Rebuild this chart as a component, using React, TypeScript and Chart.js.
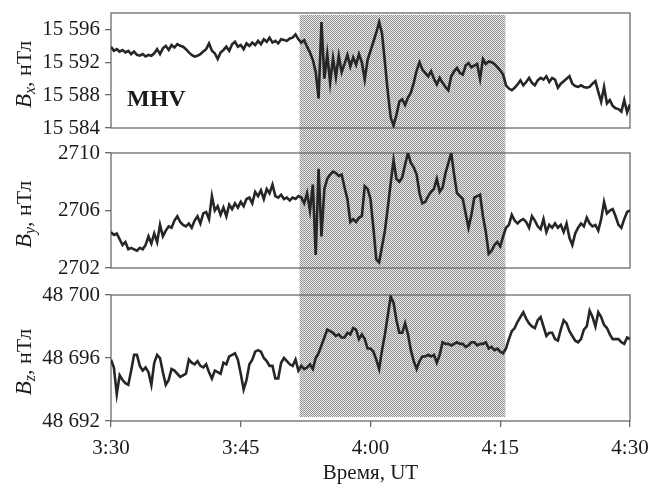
import React, { useEffect, useRef } from "react";
import { Chart, registerables } from "chart.js";

Chart.register(...registerables);

// ---- axis definitions (minutes after 3:30 UT) ----
const xTickMinutes = [0, 15, 30, 45, 60];
const xTickLabels = ["3:30", "3:45", "4:00", "4:15", "4:30"];
const shadedMinutes = [21.8, 45.6];

const bxRange = [15584, 15598];
const bxTicks = [15584, 15588, 15592, 15596];
const bxTickLabels = ["15 584", "15 588", "15 592", "15 596"];
const byRange = [2702, 2710];
const byTicks = [2702, 2706, 2710];
const byTickLabels = ["2702", "2706", "2710"];
const bzRange = [48692, 48700];
const bzTicks = [48692, 48696, 48700];
const bzTickLabels = ["48 692", "48 696", "48 700"];

const stationLabel = "MHV";
const xTitle = "Время, UT";
const unitLabel = ", нТл";

// ---- series: one sample every 20 s from 3:30 to 4:30 UT ----
const bxValues = [
  15593.9, 15593.4, 15593.6, 15593.3, 15593.5, 15593.2, 15593.4, 15593.0, 15593.3,
  15592.9, 15592.8, 15593.0, 15592.7, 15592.9, 15592.8, 15593.1, 15593.6, 15593.0,
  15593.7, 15594.0, 15593.5, 15594.1, 15593.8, 15594.2, 15594.0, 15593.9, 15593.6,
  15593.2, 15592.9, 15592.7, 15592.8, 15593.0, 15593.3, 15593.6, 15594.3, 15593.4,
  15593.1, 15592.4, 15593.2, 15593.5, 15593.9, 15593.4, 15594.2, 15594.5, 15593.9,
  15594.1, 15593.6, 15594.3, 15594.0, 15594.4, 15594.1, 15594.6, 15594.2, 15594.8,
  15594.5, 15595.0, 15594.4, 15594.6, 15594.3, 15594.8, 15594.7, 15594.6, 15594.9,
  15595.0, 15595.4, 15594.8, 15594.4, 15594.7, 15593.9, 15593.2, 15592.3, 15590.8,
  15587.6, 15596.9, 15590.0, 15593.0, 15589.5, 15592.5, 15590.2, 15592.8, 15590.8,
  15591.8, 15592.9, 15591.5, 15592.6, 15591.7, 15593.0, 15592.0, 15589.9, 15592.3,
  15593.4, 15594.5, 15595.6, 15596.9, 15595.5, 15592.0, 15588.4, 15585.3, 15584.3,
  15585.6, 15587.2, 15587.5, 15586.8, 15587.7, 15588.3, 15589.5, 15591.0, 15592.0,
  15591.1, 15590.7, 15590.3, 15590.9, 15590.0, 15589.3, 15590.1, 15589.5, 15589.0,
  15588.6, 15590.3, 15590.9, 15591.3, 15590.7, 15590.5, 15591.6, 15591.9, 15591.4,
  15591.6, 15591.8, 15590.0, 15592.4, 15591.8, 15592.1, 15592.0, 15591.8, 15591.4,
  15591.0, 15590.5, 15589.2, 15588.8, 15588.6, 15588.9, 15589.3, 15589.8, 15589.2,
  15589.6, 15590.1, 15589.5, 15589.2, 15589.8, 15590.1, 15589.9, 15590.3, 15589.6,
  15590.1, 15589.9, 15588.9, 15589.4, 15589.7, 15590.0, 15590.3, 15589.4, 15589.1,
  15589.0, 15589.2, 15589.0, 15588.9, 15589.0, 15589.4, 15589.7, 15588.4, 15587.2,
  15589.0, 15587.0, 15587.4, 15586.7, 15586.4, 15586.3, 15586.0, 15587.4, 15585.9,
  15586.9,
];

const byValues = [
  2704.5, 2704.3, 2704.4, 2704.0, 2703.6, 2703.8, 2703.3, 2703.4, 2703.3,
  2703.2, 2703.4, 2703.3, 2703.6, 2704.2, 2703.7, 2704.4, 2703.8, 2705.0,
  2704.2, 2704.6, 2704.9, 2704.8, 2705.3, 2705.6, 2705.2, 2705.0, 2704.9,
  2705.1, 2704.8, 2705.3, 2705.6, 2705.1, 2705.8, 2705.9, 2705.4, 2707.0,
  2706.0, 2706.3, 2705.7, 2706.2, 2705.6, 2706.4, 2706.1, 2706.5, 2706.2,
  2706.6, 2706.3, 2706.8, 2706.9, 2706.5, 2707.3, 2707.0, 2707.4, 2706.8,
  2707.5, 2707.2, 2707.8, 2707.0, 2706.9, 2707.1, 2706.8, 2706.9, 2706.7,
  2706.9, 2706.8, 2707.0, 2706.9, 2706.5, 2707.2, 2706.0, 2707.8, 2702.9,
  2708.9, 2704.2, 2707.5, 2708.2, 2708.5, 2708.7, 2708.6, 2708.4, 2708.5,
  2707.6, 2706.8, 2705.2, 2705.4, 2705.2, 2705.5, 2705.6, 2707.7, 2707.5,
  2706.8, 2704.8, 2702.6, 2702.4, 2703.5, 2704.6, 2706.2, 2707.9, 2709.5,
  2708.2, 2708.0, 2708.3, 2709.2, 2710.0, 2709.3, 2709.0, 2708.5, 2707.2,
  2706.5, 2706.6, 2707.0, 2707.3, 2707.5, 2708.2, 2707.3, 2707.6, 2708.6,
  2709.3, 2710.0, 2708.5, 2707.2, 2707.0, 2706.8, 2705.8, 2704.8, 2705.7,
  2706.9, 2707.0, 2707.1, 2705.6, 2704.5, 2703.0, 2703.2, 2703.6, 2703.8,
  2703.5, 2704.2, 2704.8, 2705.0, 2705.7, 2705.3, 2705.1, 2705.3, 2705.4,
  2705.2, 2704.8, 2705.6, 2705.3, 2704.9, 2704.7, 2705.4, 2704.5, 2705.0,
  2704.8, 2705.1, 2704.8, 2705.0, 2704.5, 2705.1, 2704.1, 2703.6, 2704.4,
  2704.8, 2705.1, 2704.9, 2705.5, 2705.1, 2704.9, 2705.0, 2704.6, 2705.4,
  2706.6, 2705.8, 2706.0, 2706.1, 2705.6, 2705.0, 2704.8, 2705.4, 2705.9,
  2706.0,
];

const bzValues = [
  48695.9, 48695.4, 48693.7, 48694.9, 48694.6, 48694.4, 48694.3, 48695.2, 48696.2,
  48696.2, 48695.5, 48695.2, 48695.4, 48695.1, 48694.3, 48695.7, 48696.2, 48696.0,
  48695.1, 48694.3, 48694.6, 48695.3, 48695.2, 48695.0, 48694.8, 48694.9, 48695.0,
  48695.9, 48695.7, 48695.6, 48695.8, 48695.5, 48695.4, 48695.6, 48695.1, 48694.7,
  48695.2, 48695.1, 48695.0, 48695.7, 48695.6, 48696.1, 48696.2, 48696.3, 48695.9,
  48695.0, 48694.0, 48694.6, 48695.6, 48695.9, 48696.4, 48696.5, 48696.4, 48696.0,
  48695.8, 48695.5, 48695.5, 48694.7, 48694.7, 48695.7, 48696.0, 48695.8, 48695.6,
  48695.5, 48695.9, 48695.2, 48695.5, 48695.3, 48695.4, 48695.6, 48695.3, 48696.0,
  48696.3, 48696.8, 48697.3, 48697.8, 48697.7, 48697.6, 48697.4, 48697.5, 48697.3,
  48697.3, 48697.6, 48697.5, 48697.9, 48697.8, 48697.2, 48697.5, 48697.2, 48696.6,
  48696.6, 48696.4, 48695.9, 48695.3, 48696.5, 48697.5, 48698.7, 48699.9, 48699.5,
  48698.4, 48697.6, 48697.6, 48698.2, 48697.5, 48696.5, 48695.8, 48695.3, 48695.8,
  48696.1, 48696.1, 48696.2, 48696.1, 48696.2, 48695.7, 48696.2, 48697.0, 48696.9,
  48696.9, 48696.8, 48696.9, 48697.0, 48696.9, 48696.9, 48696.7, 48696.8, 48697.0,
  48697.0, 48696.8, 48696.9, 48696.9, 48697.0, 48696.6, 48696.7, 48696.5, 48696.6,
  48696.4, 48696.3, 48696.6, 48697.2, 48697.7, 48697.9, 48698.3, 48698.6, 48698.9,
  48698.5, 48698.2, 48698.0, 48697.9, 48698.4, 48698.6, 48698.0, 48697.4, 48697.6,
  48697.6, 48697.2, 48697.1, 48697.8, 48698.4, 48698.2, 48697.7, 48697.4, 48697.1,
  48697.0, 48697.2, 48697.8, 48698.0, 48699.0, 48698.6, 48698.0, 48698.9, 48698.6,
  48698.1, 48697.9, 48697.5, 48697.2, 48697.2, 48697.2, 48697.0, 48696.9, 48697.3,
  48697.2,
];

const SERIF = "'Liberation Serif', 'Times New Roman', serif";
const INK = "#1a1a1a";
const FRAME = "#6a6a6a";
const LINE = "#262626";

const toPoints = (vals: number[]) => {
  const step = 60 / (vals.length - 1);
  return vals.map((v, i) => ({ x: i * step, y: v }));
};

function makeYAxis(range: number[], ticks: number[], labels: string[], stackWeight: number, weight: number) {
  return {
    type: "linear",
    position: "left",
    stack: "panels",
    stackWeight,
    weight,
    min: range[0],
    max: range[1],
    afterBuildTicks: (s: any) => {
      s.ticks = ticks.map((v) => ({ value: v }));
    },
    afterFit: (s: any) => {
      s.width = 111;
      s.paddingTop = 0;
      s.paddingBottom = 0;
    },
    ticks: {
      callback: (v: any) => {
        const i = ticks.indexOf(Number(v));
        return i >= 0 ? labels[i] : "";
      },
      font: { family: SERIF, size: 21 },
      color: INK,
      padding: 5,
      autoSkip: false,
    },
    grid: { drawOnChartArea: false, drawTicks: true, tickLength: 6, color: FRAME, lineWidth: 1.3 },
    border: { display: false },
  };
}

function gapAxis(stackWeight: number, weight: number) {
  return {
    type: "linear",
    position: "left",
    stack: "panels",
    stackWeight,
    weight,
    display: false,
  };
}

export default function App() {
  const ref = useRef<HTMLCanvasElement | null>(null);

  useEffect(() => {
    const canvas = ref.current;
    if (!canvas) return;
    const ctx = canvas.getContext("2d")!;

    const pc = document.createElement("canvas");
    pc.width = 2;
    pc.height = 2;
    const pctx = pc.getContext("2d")!;
    pctx.fillStyle = "#e8e8e8";
    pctx.fillRect(0, 0, 2, 2);
    pctx.fillStyle = "#939393";
    pctx.fillRect(0, 0, 1, 1);
    pctx.fillRect(1, 1, 1, 1);
    const pattern = ctx.createPattern(pc, "repeat")!;

    const panelIds = ["yBx", "yBy", "yBz"];
    const subs = ["x", "y", "z"];

    const panelPlugin = {
      id: "panelDecor",
      beforeDraw(chart: any) {
        const c = chart.ctx;
        const xs = chart.scales.x;
        const x0 = xs.getPixelForValue(shadedMinutes[0]);
        const x1 = xs.getPixelForValue(shadedMinutes[1]);
        const top = chart.scales.yBx.top + 2;
        const bottom = chart.scales.yBz.bottom - 4;
        c.save();
        c.fillStyle = pattern;
        c.fillRect(x0, top, x1 - x0, bottom - top);
        c.restore();
      },
      beforeDatasetsDraw(chart: any) {
        const c = chart.ctx;
        const area = chart.chartArea;
        c.save();
        c.strokeStyle = FRAME;
        c.lineWidth = 1.3;
        panelIds.forEach((id) => {
          const s = chart.scales[id];
          c.strokeRect(area.left, s.top, area.right - area.left, s.bottom - s.top);
        });
        // y titles
        c.fillStyle = INK;
        c.textBaseline = "alphabetic";
        panelIds.forEach((id, k) => {
          const s = chart.scales[id];
          const cy = (s.top + s.bottom) / 2 + 4;
          c.save();
          c.translate(31, cy);
          c.rotate(-Math.PI / 2);
          const fB = `italic 23px ${SERIF}`;
          const fS = `italic 16px ${SERIF}`;
          const fU = `22px ${SERIF}`;
          c.font = fB;
          const wB = c.measureText("B").width;
          c.font = fS;
          const wS = c.measureText(subs[k]).width;
          c.font = fU;
          const wU = c.measureText(unitLabel).width;
          let x = -(wB + wS + wU) / 2;
          c.font = fB;
          c.fillText("B", x, 0);
          x += wB;
          c.font = fS;
          c.fillText(subs[k], x, 4);
          x += wS;
          c.font = fU;
          c.fillText(unitLabel, x, 0);
          c.restore();
        });
        // station label
        c.font = `bold 24px ${SERIF}`;
        c.fillText(stationLabel, area.left + 16, 106);
        c.restore();
      },
    };

    const dsCommon = {
      borderColor: LINE,
      borderWidth: 2.6,
      pointRadius: 0,
      tension: 0,
      fill: false,
    };

    const chart = new Chart(ctx, {
      type: "line",
      data: {
        datasets: [
          { ...dsCommon, label: "Bx", data: toPoints(bxValues), yAxisID: "yBx" },
          { ...dsCommon, label: "By", data: toPoints(byValues), yAxisID: "yBy" },
          { ...dsCommon, label: "Bz", data: toPoints(bzValues), yAxisID: "yBz" },
        ],
      } as any,
      options: {
        animation: false,
        responsive: false,
        maintainAspectRatio: false,
        devicePixelRatio: 1,
        layout: { padding: { left: 0, top: 13, right: 24, bottom: 0 } },
        plugins: { legend: { display: false }, tooltip: { enabled: false } },
        scales: {
          x: {
            type: "linear",
            position: "bottom",
            min: 0,
            max: 60,
            afterBuildTicks: (s: any) => {
              s.ticks = xTickMinutes.map((v) => ({ value: v }));
            },
            afterFit: (s: any) => {
              s.height = 65;
              s.paddingLeft = 0;
              s.paddingRight = 0;
            },
            ticks: {
              callback: (v: any) => {
                const i = xTickMinutes.indexOf(Number(v));
                return i >= 0 ? xTickLabels[i] : "";
              },
              font: { family: SERIF, size: 21 },
              color: INK,
              padding: 9,
              maxRotation: 0,
              autoSkip: false,
            },
            grid: { drawOnChartArea: false, drawTicks: true, tickLength: 6, color: FRAME, lineWidth: 1.3 },
            border: { display: false },
            title: {
              display: true,
              text: xTitle,
              font: { family: SERIF, size: 21 },
              color: INK,
              padding: { top: 0, bottom: 0 },
            },
          },
          yBx: makeYAxis(bxRange, bxTicks, bxTickLabels, 115, 5),
          gap1: gapAxis(25, 4),
          yBy: makeYAxis(byRange, byTicks, byTickLabels, 115, 3),
          gap2: gapAxis(27, 2),
          yBz: makeYAxis(bzRange, bzTicks, bzTickLabels, 126, 1),
        } as any,
      },
      plugins: [panelPlugin],
    });

    return () => chart.destroy();
  }, []);

  return (
    <div style={{ position: "absolute", left: 0, top: 0, width: 654, height: 486, background: "#fff" }}>
      <canvas ref={ref} width={654} height={486} style={{ display: "block" }} />
    </div>
  );
}
